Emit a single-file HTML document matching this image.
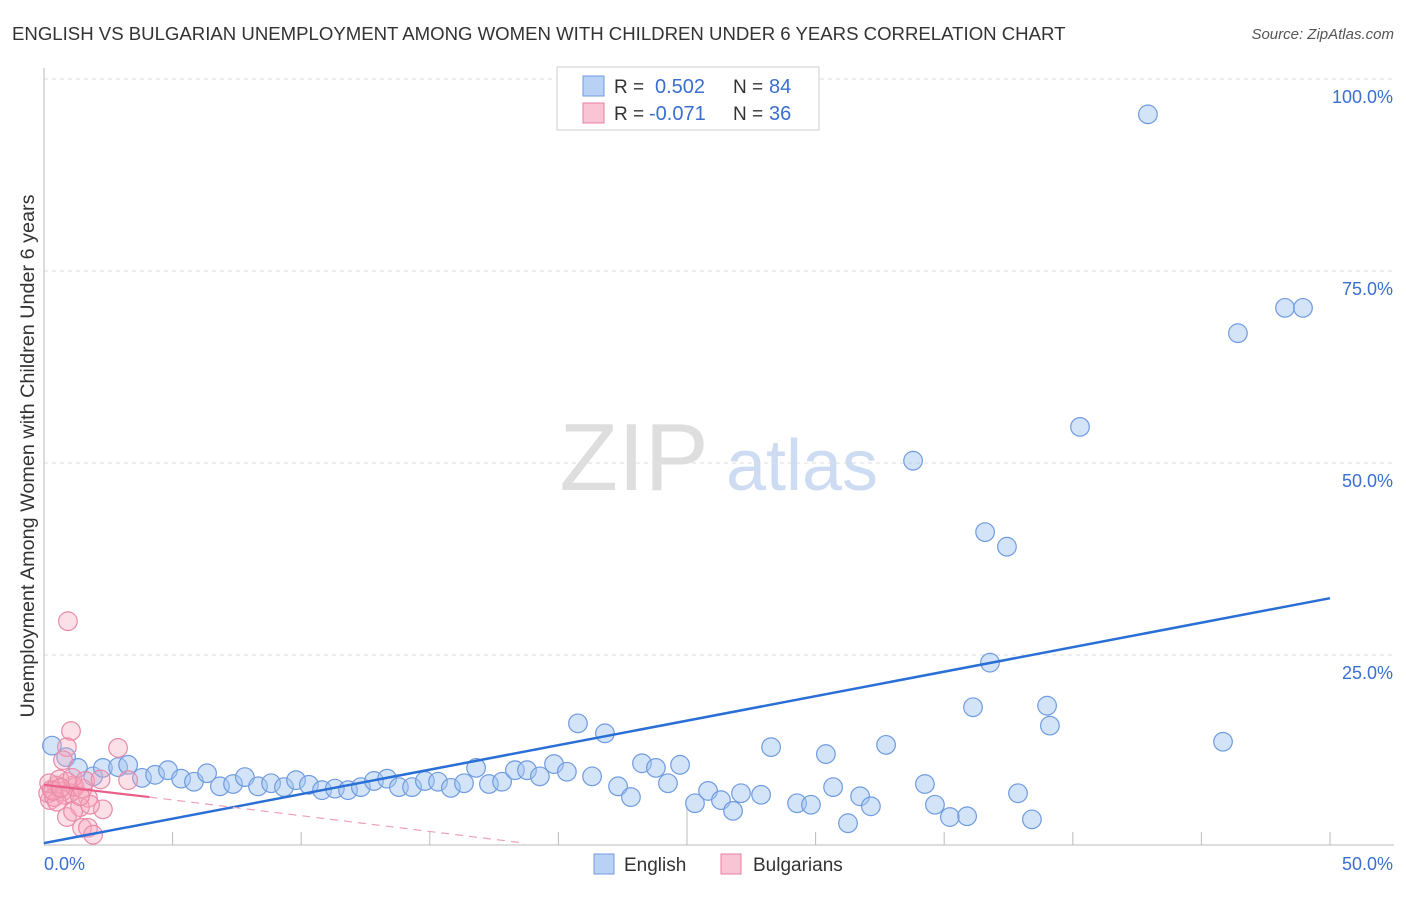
<!DOCTYPE html>
<html><head><meta charset="utf-8"><style>
body{margin:0;background:#fff;font-family:"Liberation Sans",sans-serif}
svg text{font-family:"Liberation Sans",sans-serif}
</style></head><body>
<svg width="1406" height="892" viewBox="0 0 1406 892">
<text x="12" y="40" font-size="18.6" fill="#333">ENGLISH VS BULGARIAN UNEMPLOYMENT AMONG WOMEN WITH CHILDREN UNDER 6 YEARS CORRELATION CHART</text>
<text x="1394" y="39" font-size="15" fill="#555" font-style="italic" text-anchor="end">Source: ZipAtlas.com</text>
<g>
<text x="634" y="490" font-size="96" fill="#dedede" font-family="Liberation Serif" text-anchor="middle">ZIP</text>
<text x="802" y="490" font-size="72" fill="#cddcf2" text-anchor="middle">atlas</text>
</g>
<g id="grid"></g>
<g id="axes"></g>
<g id="marks"></g>
<text transform="translate(34,456) rotate(-90)" font-size="19.8" fill="#333" text-anchor="middle">Unemployment Among Women with Children Under 6 years</text>
<g>
<rect x="557" y="67" width="262" height="63" fill="#fff" stroke="#ccc"/>
<rect x="583" y="76" width="21" height="20" fill="#b8d2f5" stroke="#6f9be0"/>
<rect x="583" y="103" width="21" height="20" fill="#f9c5d5" stroke="#e87fa0"/>
<text x="614" y="93" font-size="19" fill="#333">R =</text><text x="655" y="93" font-size="20" fill="#3a6fd0">0.502</text>
<text x="733" y="93" font-size="19" fill="#333">N =</text><text x="769" y="93" font-size="20" fill="#3a6fd0">84</text>
<text x="614" y="120" font-size="19" fill="#333">R =</text><text x="649" y="120" font-size="20" fill="#3a6fd0">-0.071</text>
<text x="733" y="120" font-size="19" fill="#333">N =</text><text x="769" y="120" font-size="20" fill="#3a6fd0">36</text>
</g>
<g>
<rect x="594" y="854" width="20" height="20" fill="#b8d2f5" stroke="#6f9be0"/>
<text x="624" y="871" font-size="19" fill="#333">English</text>
<rect x="721" y="854" width="20" height="20" fill="#f9c5d5" stroke="#e87fa0"/>
<text x="753" y="871" font-size="19" fill="#333">Bulgarians</text>
</g>
</svg>
<script>
const yTicks=[25,50,75,100];
const yTickLabels=["25.0%","50.0%","75.0%","100.0%"];
const xEndLabels=["0.0%","50.0%"];
const englishX=[0.31,0.86,1.32,1.91,2.29,2.88,3.27,3.81,4.32,4.82,5.33,5.83,6.34,6.84,7.35,7.81,8.32,8.83,9.33,9.80,10.30,10.81,11.31,11.82,12.32,12.83,13.34,13.80,14.31,14.81,15.32,15.82,16.33,16.80,17.30,17.81,18.31,18.78,19.28,19.83,20.33,20.76,21.31,21.81,22.32,22.82,23.25,23.79,24.26,24.73,25.31,25.82,26.32,26.79,27.10,27.88,28.27,29.28,29.82,30.40,30.68,31.73,31.26,32.15,32.74,33.79,34.25,34.64,35.22,35.89,36.12,36.59,36.78,37.44,37.87,38.41,39.00,39.11,40.28,42.92,45.84,46.42,48.25,48.95];
const englishY=[13.2,11.7,10.3,9.2,10.3,10.4,10.7,9.0,9.4,10.0,8.9,8.5,9.6,7.9,8.2,9.1,7.9,8.3,7.8,8.7,8.1,7.4,7.6,7.4,7.8,8.6,8.9,7.8,7.8,8.6,8.5,7.7,8.3,10.3,8.2,8.5,10.0,10.0,9.2,10.8,9.8,16.1,9.2,14.8,7.9,6.5,10.9,10.3,8.3,10.7,5.7,7.3,6.1,4.7,7.0,6.8,13.0,5.7,5.5,12.1,7.8,6.6,3.1,5.3,13.3,50.3,8.2,5.5,3.9,4.0,18.2,41.0,24.0,39.1,7.0,3.6,18.4,15.8,54.7,95.4,13.7,66.9,70.2,70.2];
const bulgX=[0.93,1.05,0.89,2.88,0.74,3.27,1.13,1.71,2.29,1.40,1.79,0.89,1.13,1.48,1.71,1.91,0.23,0.16,0.3,0.5,0.7,0.9,1.0,0.4,0.6,1.2,0.8,1.5,0.2,1.1,0.5,1.4,1.6,2.2,0.35,0.65];
const bulgY=[29.4,15.1,13.0,12.9,11.3,8.7,8.0,6.4,4.9,5.2,5.5,3.9,4.6,2.5,2.5,1.6,6.1,7.0,7.5,8.0,7.2,8.5,7.0,6.5,8.8,7.8,6.8,7.6,8.3,9.0,5.9,6.6,8.6,8.8,7.3,7.7];
const englishTrend=[0.5,32.4];
const bulgTrend=[8.1,6.5,0.5];
const bulgTrendX=[0,4.1,18.7];

const X0=44,X1=1330,Y0=847,Y100=79;
const sx=v=>X0+(X1-X0)*v/50;
const sy=v=>Y0-(Y0-Y100)*v/100;
const NS="http://www.w3.org/2000/svg";
function mk(tag,attrs,parent){const e=document.createElementNS(NS,tag);for(const k in attrs)e.setAttribute(k,attrs[k]);parent.appendChild(e);return e;}
const grid=document.getElementById('grid'),axes=document.getElementById('axes'),marks=document.getElementById('marks');
yTicks.forEach((t,i)=>{
  const l=mk('line',{x1:X0,x2:1394,y1:sy(t),y2:sy(t),stroke:'#ddd','stroke-dasharray':'4 4'},grid);
  
  
  const tx=mk('text',{x:1393,y:sy(t)+24,'font-size':18,fill:'#3a6fd0','text-anchor':'end'},axes);
  tx.textContent=yTickLabels[i];
  
  
});
const ya=mk('line',{x1:X0,x2:X0,y1:68,y2:845,stroke:'#bbb'},axes);


const xa=mk('line',{x1:X0,x2:1394,y1:845,y2:845,stroke:'#bbb'},axes);


for(let i=1;i<=10;i++){
  const tk=mk('line',{x1:sx(i*5),x2:sx(i*5),y1:845,y2:i==5?806:832,stroke:'#bbb'},axes);
  
  
}
const xl0=mk('text',{x:X0,y:870,'font-size':18,fill:'#3a6fd0'},axes);xl0.textContent=xEndLabels[0];


const xl1=mk('text',{x:1393,y:870,'font-size':18,fill:'#3a6fd0','text-anchor':'end'},axes);xl1.textContent=xEndLabels[1];



englishX.forEach((x,i)=>{
  const c=mk('circle',{cx:sx(x),cy:sy(englishY[i]),r:9.3,fill:'rgba(160,195,240,0.45)',stroke:'#6f9be0','stroke-width':1.2},marks);
  
  
});
bulgX.forEach((x,i)=>{
  const c=mk('circle',{cx:sx(x),cy:sy(bulgY[i]),r:9.3,fill:'rgba(245,165,190,0.35)',stroke:'#e88aa8','stroke-width':1.2},marks);
  
  
});
const et=mk('line',{x1:sx(0),y1:sy(englishTrend[0]),x2:sx(50),y2:sy(englishTrend[1]),stroke:'#2a6fd6','stroke-width':2.5},marks);


const bt=mk('line',{x1:sx(bulgTrendX[0]),y1:sy(bulgTrend[0]),x2:sx(bulgTrendX[1]),y2:sy(bulgTrend[1]),stroke:'#e8608a','stroke-width':2.2},marks);


const bd=mk('line',{x1:sx(bulgTrendX[1]),y1:sy(bulgTrend[1]),x2:sx(bulgTrendX[2]),y2:sy(bulgTrend[2]),stroke:'#eea0b8','stroke-width':1.2,'stroke-dasharray':'8 6'},marks);


</script>
</body></html>
